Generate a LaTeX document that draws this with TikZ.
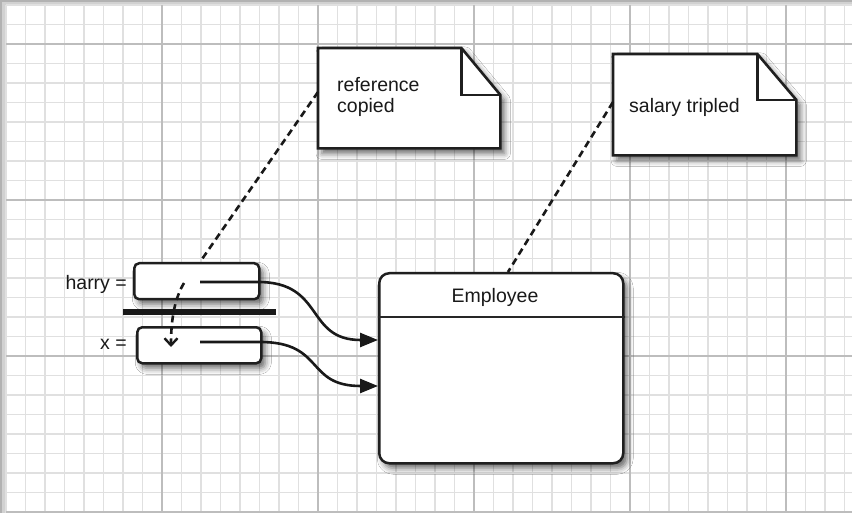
\documentclass[tikz,border=0pt]{standalone}
\usepackage{fontspec}
\setmainfont{Liberation Sans}
\usetikzlibrary{arrows.meta,calc,shadows.blur}
\begin{document}
\begin{tikzpicture}[x=1pt,y=-1pt,
  every node/.style={font=\fontsize{19.5}{21}\selectfont, inner sep=0pt, text=black!90},
  minorline/.style={draw=black!12, line width=1.5pt},
  majorline/.style={draw=black!26, line width=1.5pt},
  boxshadow/.style={blur shadow={shadow xshift=4pt, shadow yshift=-5pt, shadow blur radius=6pt, shadow opacity=60}},
  refbox/.style={draw=black!88, line width=2.5pt, fill=white, rounded corners=5pt, boxshadow},
  notebox/.style={draw=black!88, line width=2.6pt, fill=white, line join=miter, boxshadow},
  foldline/.style={draw=black!88, line width=2.6pt, line join=miter},
  link/.style={draw=black!90, line width=2.6pt},
  noteline/.style={draw=black!90, line width=2.6pt, dash pattern=on 7pt off 4.5pt},
  ]
\useasboundingbox (0,0) rectangle (852,513);
\fill[black!30] (0,0) rectangle (852,513);
\fill[black!18] (2,2) rectangle (852,513);
\fill[white] (6,5) rectangle (852,513);
% grid
\foreach \i in {0,...,43} { \draw[minorline] ({6+19.5*\i},5) -- ({6+19.5*\i},513); }
\foreach \j in {0,...,26} { \draw[minorline] (6,{5+19.5*\j}) -- (852,{5+19.5*\j}); }
\foreach \x in {162,318,474,630,786} { \draw[majorline] (\x,5) -- (\x,513); }
\foreach \y in {44,200,356,512} { \draw[majorline] (6,\y) -- (852,\y); }

% reference boxes
\node[refbox, minimum width=125pt, minimum height=36pt, anchor=north west] (harry) at (133,262) {};
\node[refbox, minimum width=124pt, minimum height=36pt, anchor=north west] (xbox) at (136,326) {};
\node[anchor=base east] (harrylbl) at (127,290) {harry =};
\node[anchor=base east] (xlbl) at (127,349) {x =};

% Employee object
\node[refbox, rounded corners=10pt, minimum width=244pt, minimum height=190pt, anchor=north west] (emp) at (378,272) {};
\draw[line width=1.5pt, black!85] ($(emp.north west)+(0,45)$) -- ($(emp.north east)+(0,45)$);
\node[anchor=base] (empname) at (495,303) {Employee};

% note 1
\node[minimum width=182pt, minimum height=100pt, anchor=north west] (note1) at (318,48) {};
\path[notebox] (note1.north west) -- ($(note1.north east)+(-39,0)$) -- ($(note1.north east)+(0,47)$) -- (note1.south east) -- (note1.south west) -- cycle;
\draw[foldline] ($(note1.north east)+(-39,0)$) -- ($(note1.north east)+(-39,47)$) -- ($(note1.north east)+(0,47)$);
\node[anchor=base west] (ref1) at (337,92) {reference};
\node[anchor=base west] (ref2) at (337,113) {copied};

% note 2
\node[minimum width=183pt, minimum height=101pt, anchor=north west] (note2) at (613,54) {};
\path[notebox] (note2.north west) -- ($(note2.north east)+(-39,0)$) -- ($(note2.north east)+(0,46)$) -- (note2.south east) -- (note2.south west) -- cycle;
\draw[foldline] ($(note2.north east)+(-39,0)$) -- ($(note2.north east)+(-39,46)$) -- ($(note2.north east)+(0,46)$);
\node[anchor=base west] (sal) at (629,113) {salary tripled};

% thick separator bar
\coordinate (bar1) at (123,312);
\coordinate (bar2) at (276,312);
\draw[line width=6pt, black!90] (bar1) -- (bar2);

% note connectors
\draw[noteline] ($(note1.north west)+(0,44)$) -- ($(harry.north west)+(67,0)$);
\draw[noteline] ($(note2.north west)+(0,48)$) -- ($(emp.north west)+(130,0)$);

% copy arrow
\coordinate (hsrc) at (184,283);
\coordinate (xdst) at (171,347);
\draw[noteline, -{Straight Barb[length=7pt,width=13pt,line width=2.4pt]}] (hsrc) .. controls (175,298) and (171,318) .. (xdst);

% reference arrows
\coordinate (hp) at (200,282);
\coordinate (xp) at (200,342);
\draw[link, -{Triangle[length=18pt,width=14pt]}] (hp) -- (258,282) .. controls (325,282) and (305,340) .. ($(emp.north west)+(0,68)$);
\draw[link, -{Triangle[length=18pt,width=14pt]}] (xp) -- (260,342) .. controls (325,342) and (305,386) .. ($(emp.north west)+(0,114)$);
\end{tikzpicture}
\end{document}
